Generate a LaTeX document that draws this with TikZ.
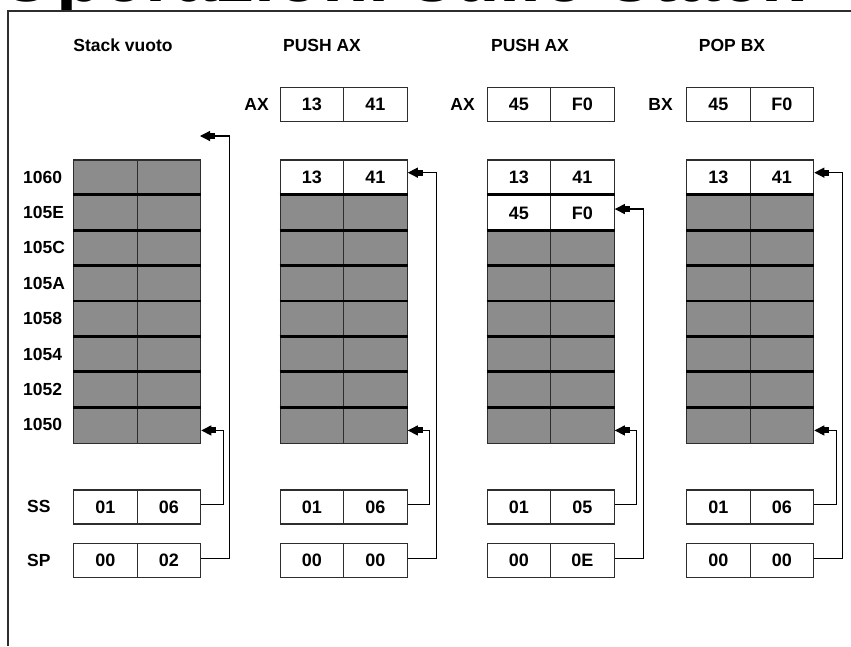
\documentclass[tikz,border=0pt]{standalone}
\usepackage{fontspec}
\setmainfont{Liberation Sans}
\usetikzlibrary{arrows.meta}
\definecolor{cellgray}{RGB}{140,140,140}
\definecolor{linegray}{RGB}{45,45,45}
\begin{document}
\begin{tikzpicture}[x=1pt,y=-1pt,
  lbl/.style={font=\fontsize{17.5}{17.5}\selectfont\bfseries, inner sep=0pt},
  cell/.style={draw=linegray, line width=1.3pt, minimum width=63.5pt, minimum height=35.4pt,
               inner sep=0pt, font=\fontsize{18}{18}\selectfont\bfseries, anchor=north west},
  full/.style={cell, fill=white},
  empty/.style={cell, fill=cellgray},
  reg/.style={full, minimum height=34pt},
  rowsep/.style={line width=2.8pt, black},
  ptr/.style={draw=black, line width=1.2pt, -{Rectangle[length=5pt,width=6pt]Triangle[length=10pt,width=10pt]}},
  frame/.style={draw=linegray, line width=2pt},
]
\useasboundingbox (0,0) rectangle (851,646);

% title, mostly cut off above the frame
\node[anchor=base west, font=\fontsize{76}{76}\selectfont\bfseries, inner sep=0pt] (title) at (-3,1) {Operazioni sullo stack};
\fill[white] (0,11) rectangle (851,646);
\draw[frame] (8,646) -- (8,11) -- (851,11);

% column headings
\node[lbl] (h1) at (123,45) {Stack vuoto};
\node[lbl] (h2) at (322,45) {PUSH AX};
\node[lbl] (h3) at (530,45) {PUSH AX};
\node[lbl] (h4) at (732,45) {POP BX};

% stack cells
\foreach \c/\L in {1/73,2/279.5,3/486.5,4/686} {
  \foreach \r in {1,...,8} {
    \node[empty] (s\c r\r a) at (\L, {159.3+35.4*(\r-1)}) {};
    \node[empty] (s\c r\r b) at ({\L+63.5}, {159.3+35.4*(\r-1)}) {};
  }
}
\node[full] (s2r1a) at (279.5,159.3) {13};
\node[full] (s2r1b) at (343,159.3) {41};
\node[full] (s3r1a) at (486.5,159.3) {13};
\node[full] (s3r1b) at (550,159.3) {41};
\node[full] (s3r2a) at (486.5,194.7) {45};
\node[full] (s3r2b) at (550,194.7) {F0};
\node[full] (s4r1a) at (686,159.3) {13};
\node[full] (s4r1b) at (749.5,159.3) {41};

% thick row separators
\foreach \c in {1,2,3,4} {
  \foreach \r in {2,...,8} {
    \draw[rowsep] (s\c r\r a.north west) -- (s\c r\r b.north east);
  }
}

% row labels
\foreach \r/\t in {1/1060,2/105E,3/105C,4/105A,5/1058,6/1054,7/1052,8/1050} {
  \node[lbl, anchor=west] (addr\r) at (23, {177+35.4*(\r-1)}) {\t};
}
\node[lbl, anchor=west] (ssl) at (27,506) {SS};
\node[lbl, anchor=west] (spl) at (27,560) {SP};

% registers AX / BX
\node[lbl, anchor=east] (rl2) at (269,104) {AX};
\node[lbl, anchor=east] (rl3) at (475,104) {AX};
\node[lbl, anchor=east] (rl4) at (673,104) {BX};
\node[reg] (r2a) at (279.5,87) {13};
\node[reg] (r2b) at (343,87) {41};
\node[reg] (r3a) at (486.5,87) {45};
\node[reg] (r3b) at (550,87) {F0};
\node[reg] (r4a) at (686,87) {45};
\node[reg] (r4b) at (749.5,87) {F0};

% SS and SP registers
\foreach \c/\L/\ssa/\ssb/\spa/\spb in {1/73/01/06/00/02, 2/279.5/01/06/00/00, 3/486.5/01/05/00/0E, 4/686/01/06/00/00} {
  \node[reg] (ss\c a) at (\L,489.3) {\ssa};
  \node[reg] (ss\c b) at ({\L+63.5},489.3) {\ssb};
  \node[reg] (sp\c a) at (\L,543) {\spa};
  \node[reg] (sp\c b) at ({\L+63.5},543) {\spb};
}

% SS pointers to 1050
\foreach \c in {1,2,3,4} {
  \draw[ptr] ([yshift=2.5pt]ss\c b.east) -- ++(22,0) |- ([yshift=-5pt]s\c r8b.east);
}

% SP pointers
\coordinate (sptop1) at (200,136);
\draw[ptr] ([yshift=2.5pt]sp1b.east) -- ++(28.5,0) |- (sptop1);
\draw[ptr] ([yshift=2.5pt]sp2b.east) -- ++(28.5,0) |- ([yshift=5pt]s2r1b.east);
\draw[ptr] ([yshift=2.5pt]sp3b.east) -- ++(28.5,0) |- ([yshift=4pt]s3r2b.east);
\draw[ptr] ([yshift=2.5pt]sp4b.east) -- ++(28.5,0) |- ([yshift=5pt]s4r1b.east);
\end{tikzpicture}
\end{document}
